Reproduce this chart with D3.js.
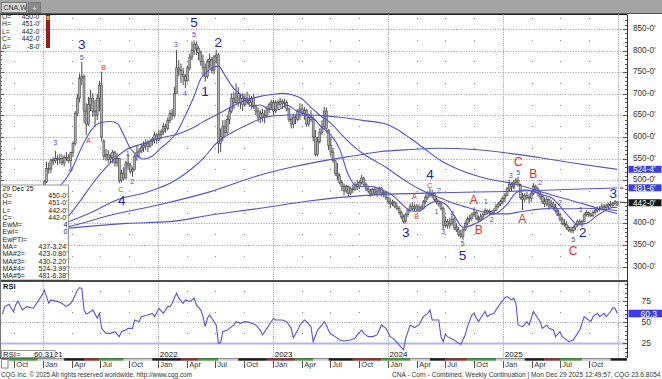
<!DOCTYPE html>
<html><head><meta charset="utf-8">
<script src="https://cdn.jsdelivr.net/npm/d3@7"></script>
<style>body{margin:0;background:#fff}svg{display:block}</style>
</head><body><svg id="c" width="662" height="379"></svg>
<script>
// ---------------- DATA ----------------
// weekly bars, week 0 = week of 4 Jan 2021
const opens = [485,496,527,526,547,545,550,548,550,540,553,552,545,564,585,655,690,735,740,660,630,675,690,660,650,690,720,590,555,560,548,553,565,540,550,500,515,505,540,535,520,525,555,565,568,575,580,585,578,590,595,605,593,605,612,625,620,638,655,650,700,760,755,745,740,730,760,785,800,815,805,795,775,760,740,775,780,755,785,790,585,600,625,610,640,660,690,680,700,680,690,675,690,685,680,690,670,660,645,655,645,650,665,675,680,660,680,675,682,678,680,665,640,630,645,640,660,665,655,662,630,645,640,600,560,590,610,625,660,615,580,565,545,515,510,495,485,475,485,470,480,478,490,485,495,505,490,480,475,468,478,470,475,482,470,472,460,450,445,448,440,435,425,415,405,420,430,440,435,440,432,438,435,450,460,470,465,470,455,450,445,435,395,405,395,400,410,390,385,375,370,385,400,410,412,420,425,412,408,415,420,430,425,428,422,430,440,445,450,458,465,480,490,485,495,500,490,460,455,465,460,458,470,485,480,470,462,450,445,455,440,445,438,430,420,410,400,398,390,385,383,390,398,405,400,405,420,425,420,418,425,430,435,433,440,436,440,444,442,446,450];
const highs = [500,543,541,550,553,568,558,562,560,558,565,560,566,590,660,700,747,774,745,678,693,709,701,686,700,730,751,595,572,570,560,570,568,562,552,524,530,545,560,540,530,560,580,575,585,590,595,592,595,600,612,609,615,618,632,630,645,662,665,716,801,778,770,760,745,765,793,821,824,821,810,800,790,770,780,793,785,790,801,795,620,639,640,650,670,701,705,724,715,700,701,700,705,698,695,700,675,668,662,665,662,672,680,686,686,685,686,690,688,688,685,668,648,654,652,665,678,676,670,665,654,662,648,616,600,620,639,670,668,618,600,575,547,540,515,500,492,490,488,485,490,495,500,500,512,508,495,485,480,482,485,482,485,484,478,475,462,458,455,452,448,440,430,420,425,435,446,450,445,445,444,442,454,465,475,481,478,472,460,455,450,439,416,410,412,419,415,400,392,385,390,405,416,420,425,437,430,418,423,425,435,433,432,430,435,445,450,455,462,470,485,500,495,500,505,508,492,470,470,473,468,475,493,490,485,475,465,460,462,458,454,450,445,435,423,415,410,405,395,392,395,400,408,410,408,425,431,428,425,430,435,439,440,446,445,446,448,452,450,454,451];
const lows = [482,493,515,517,535,540,535,538,535,532,545,540,531,554,580,648,680,720,632,605,625,660,647,624,639,660,590,547,545,540,539,540,532,531,493,495,500,503,524,515,508,522,545,550,562,565,570,565,575,580,585,585,590,595,605,610,615,632,640,645,700,740,725,720,713,728,755,778,790,790,778,765,740,728,735,760,747,745,770,562,565,590,600,605,630,655,665,675,670,665,660,670,675,670,665,665,650,635,632,635,632,645,655,665,650,655,665,668,665,668,660,635,620,620,630,636,640,650,640,624,624,635,590,555,555,585,605,616,610,570,555,540,510,500,490,475,465,470,462,465,470,475,477,480,490,485,475,470,462,464,465,462,465,462,460,454,445,435,440,435,431,420,410,400,400,415,425,430,427,428,428,431,433,445,455,460,458,450,445,439,430,385,390,388,388,395,385,380,370,365,362,382,395,402,405,415,408,402,404,408,418,420,419,419,420,428,435,440,445,450,462,475,475,480,488,485,455,431,450,455,446,450,465,470,462,455,445,438,440,431,435,430,425,418,405,395,392,385,380,378,377,385,392,395,392,402,416,415,414,415,422,425,428,430,432,433,435,438,439,443,442];
const closes = [496,527,526,547,545,550,548,550,540,553,552,545,564,585,655,690,735,740,660,630,675,690,660,650,690,720,600,555,560,548,553,565,540,550,500,515,505,540,535,520,525,555,565,568,575,580,585,578,590,595,605,593,605,612,625,620,638,655,650,700,760,755,745,740,730,760,785,800,815,805,795,775,760,740,775,780,755,785,790,585,600,625,610,640,660,690,680,700,680,690,675,690,685,680,690,670,660,645,655,645,650,665,675,680,660,680,675,682,678,680,665,640,630,645,640,660,665,655,662,630,645,640,600,560,590,610,625,660,620,580,565,545,515,510,495,485,475,485,470,480,478,490,485,495,505,490,480,475,468,478,470,475,482,470,472,460,450,445,448,440,435,425,415,405,420,430,440,435,440,432,438,435,450,460,470,465,470,455,450,445,435,395,405,395,400,410,390,385,375,370,385,400,410,412,420,425,412,408,415,420,430,425,428,422,430,440,445,450,458,465,480,490,485,495,500,490,460,455,465,460,458,470,485,480,470,462,450,445,455,440,445,438,430,420,410,400,398,390,385,383,390,398,405,400,405,420,425,420,418,425,430,435,433,440,436,440,444,442,446,450,442];

// moving averages (week index, value)
const maWeeks = [0,4,8,13,16,19,22,26,30,33,36,39,42,45,49,53,57,60,64,68,71,74,77,79,82,86,90,94,98,102,106,110,114,118,122,126,130,134,138,142,146,150,154,158,162,166,170,174,178,182,186,190,194,198,202,206,210,214,218,222,226,230,234,238,242,246,250,254,258,260];
const maValues = [470,480,492,531,566,597,620,634,636,632,605,574,558,549,556,575,592,610,650,695,735,752,762,764,742,712,695,672,674,664,663,674,662,654,644,622,605,572,512,485,486,484,476,465,446,430,428,443,452,445,418,391,396,406,419,426,444,471,478,474,466,460,440,416,398,400,415,428,437,437];
const ma2Weeks = [0,7,15,22,30,35,45,52,57,62,67,72,78,85,92,101,111,120,128,135,145,155,160,166,172,180,188,195,202,210,218,225,232,240,248,254,260];
const ma2Values = [392,398,412,427,448,458,470,482,493,508,527,550,585,610,628,647,651,651,649,645,638,630,618,597,575,545,525,512,502,495,485,474,463,452,440,431,423];
const ma3Weeks = [0,5,10,16,22,30,37,45,52,60,67,72,78,85,92,98,103,108,113,117,121,125,130,135,140,145,150,155,160,165,170,175,180,185,190,195,200,205,210,215,220,225,230,235,240,245,250,255,260];
const ma3Values = [380,395,412,450,493,540,570,585,597,606,620,635,651,670,686,694,698,701,697,688,668,651,632,605,580,560,545,530,512,495,480,468,458,448,440,432,426,422,422,426,430,433,435,434,434,435,434,432,430];
const ma4Weeks = [0,10,30,52,75,98,113,129,140,152,166,180,195,210,225,240,260];
const ma4Values = [385,392,419,443,473,512,531,547,556,566,571,574,571,563,552,540,525];
const ma5Weeks = [0,10,37,57,75,98,120,130,150,180,210,240,260];
const ma5Values = [386,389,400,404,419,435,452,458,466,471,474,479,482];

// RSI
const rsiWeeks = [-19,-18,-16,-15,-14,-13,-12,-10,-8,-5,-3,-1,0,2,3,6,8,10,12,13,15,16,17,18,19,21,22,24,25,26,28,30,32,34,35,37,38,40,41,43,44,47,49,50,52,54,56,57,58,60,61,63,64,66,68,69,71,72,73,74,75,77,78,79,80,81,83,84,86,87,89,91,93,96,98,99,101,102,104,105,108,110,112,113,115,116,118,119,121,122,124,126,127,128,129,130,132,134,136,139,141,142,144,145,147,149,151,153,155,157,159,161,163,164,166,168,170,172,174,175,176,179,180,181,182,183,186,188,189,191,192,194,195,197,198,200,201,202,204,206,207,209,210,212,213,214,215,217,218,219,220,222,223,225,226,228,229,231,232,234,235,237,238,240,242,243,245,246,248,249,251,252,254,255,257,258,259,260];
const rsiValues = [59.5,68.5,71.3,66.6,62.7,70.5,75.2,64.6,68.5,66.6,74.4,82.3,88.2,72.4,76.4,74.4,72.4,68.5,72.4,76.4,88.2,91,90,64.6,59.5,62.7,64.6,54.7,60.5,42.8,36.9,36.9,38.9,33,38.9,40.8,42.8,42.8,52.7,50.7,56.6,58.6,60.5,56.6,66.6,60.5,68.5,68.5,72.4,84.3,78.4,72.4,76.4,74.4,78.4,70.5,64.6,56.6,44.8,54.7,58.6,50.7,46.8,25.1,25.9,38.9,40.8,42.8,46.8,50.7,48.7,50.7,49.9,46.8,40.8,35,42.8,46.8,54.7,52.7,52.7,50.7,42.8,31.7,40.8,46.8,52.7,50.7,44.8,27,40.8,46.8,50.7,46.8,40,36,33,29.1,27.9,29.1,31,35,40.8,36.9,33,33,35,46.8,42.8,33,29.1,23.2,17.3,31,46.8,43.7,46.8,56.6,60.5,64.6,52.7,52.7,33,27,35.8,33,29.1,25.1,24,35,44.8,58.6,60.5,50.7,54.7,62.7,56.6,58.6,60.5,68.5,72.4,79.1,80.3,76.4,78.4,72.4,46.8,44.8,47.6,50.7,46.8,62.7,58.6,50.7,42.8,46.8,42.8,40.8,33,38.9,33,29.1,27,29.1,36.9,40.8,56.6,54.7,50.7,56.6,60.5,56.6,60.5,56.6,62.7,67.3,66.6,60.3];

// Elliott wave labels (text, week index, price, degree 2=large 0=small)
const waveText = ["3","5","B","3","4","A","1","2","C","4","3","5","5","2","4","1","4","C","2","A","B","3","1","3","4","5","5","A","B","1","2","3","5","C","4","A","B","2","2","3","5","C","2","1","3"];
const waveWeek = [17,17,26.9,4.9,11.7,20,37.8,39.9,34.7,35.1,59.6,67.9,67.9,78.9,63.8,72.9,175,175,179.1,167.9,169,164,178,181,185.1,189.8,189.8,194.9,197.2,200.3,203,211.7,215.1,215.1,212.8,216.9,221.9,224.9,234,233,240,240,244.3,243.4,258.2];
const wavePrice = [815,785,761,587,524,591,562,497,479,454,813,865,837,818,701,705,514,487,477,462,416,379,428,381,423,353,326,454,385,450,408,510,518,542,485,410,514,494,448,422,363,335,379,433,470];
const waveDegree = [2,0,0,0,0,0,0,0,0,2,0,2,0,2,0,2,2,0,0,0,0,2,0,0,0,0,2,2,2,0,0,0,0,2,0,2,2,0,0,0,0,2,2,0,2];

const priceTicks = [300,350,400,450,500,550,600,650,700,750,800,850];
const rsiTicks = [25,50,75];
const monthNames = ["Jan","Apr","Jul","Oct"];
const yearLabels = ["2021","2022","2023","2024","2025"];
const contractStarts = ["2020-08-31","2020-12-14","2021-03-08","2021-05-10","2021-06-28","2021-09-13","2021-12-13","2022-03-14","2022-05-09","2022-07-11","2022-09-12","2022-12-12","2023-03-13","2023-05-08","2023-06-26","2023-09-11","2023-12-11","2024-03-11","2024-05-13","2024-07-01","2024-09-09","2024-12-09","2025-03-10","2025-05-12","2025-06-30","2025-09-08","2025-12-08"];
const lastBar = {date:"29 Dec 25", o:"450-0'", h:"451-0'", l:"442-0'", c:"442-0'", chg:"-8-0'"};
const studyRows = [["EwM=","4"],["EwI=","0"],["EwPTI=",""],["MA=","437-3.24'"],["MA#2=","423-0.80'"],["MA#3=","430-2.20'"],["MA#4=","524-3.99'"],["MA#5=","481-6.38'"]];
const axisMarks = [{v:524.5,t:"524-4'",k:"ma"},{v:481.75,t:"481-6'",k:"ma"},{v:442,t:"442-0'",k:"last"}];
const rsiLast = 60.31;

// ---------------- DRAW ----------------
const FONT = "'Liberation Sans', Arial, Helvetica, sans-serif";
const svg = d3.select("#c").style("font-family", FONT);
const base = new Date(2021,0,4).getTime();
const wd = i => new Date(base + i*7*864e5);
const x = d3.scaleTime().domain([new Date(2022,0,1), new Date(2025,0,1)]).range([158.3,503.3]);
const y = d3.scaleLinear().domain([300,850]).range([266.6,29]);
const yr = d3.scaleLinear().domain([25,75]).range([343.4,301.1]);
const PR = 627, MT = 14.5, MB = 280.5, RT = 281, RB = 358;
const px = v => Math.round(v) + 0.5;

svg.append("rect").attr("width",662).attr("height",379).attr("fill","#fff");
const defs = svg.append("defs");
defs.append("clipPath").attr("id","cm").append("rect").attr("x",0).attr("y",MT).attr("width",PR).attr("height",MB-MT);
defs.append("clipPath").attr("id","cr").append("rect").attr("x",0).attr("y",RT+1).attr("width",PR).attr("height",RB-RT-1);

// header
svg.append("rect").attr("x",0).attr("y",0).attr("width",662).attr("height",13).attr("fill","#a4a4a4");
svg.append("rect").attr("x",1.5).attr("y",2.5).attr("width",25).attr("height",10).attr("fill","#d6d6d6").attr("stroke","#7c7c7c");
svg.append("text").attr("x",3.5).attr("y",10.2).attr("font-size",7).attr("fill","#333").text("CNA,W");
svg.append("rect").attr("x",28.5).attr("y",2.5).attr("width",12).attr("height",10).attr("fill","#8a8a8a").attr("stroke","#777");
svg.append("text").attr("x",34.5).attr("y",10.5).attr("text-anchor","middle").attr("font-size",8).attr("fill","#e8e8e8").text("+");
svg.append("line").attr("x1",0).attr("x2",662).attr("y1",13.5).attr("y2",13.5).attr("stroke","#555");
svg.append("line").attr("x1",0).attr("x2",PR).attr("y1",MT).attr("y2",MT).attr("stroke","#222");

// grid
const grid = svg.append("g");
priceTicks.forEach(v => grid.append("line").attr("x1",1).attr("x2",PR).attr("y1",px(y(v))).attr("y2",px(y(v)))
  .attr("stroke","#9a9a9a").attr("stroke-dasharray","1,1.6"));
const years = d3.timeYear.range(new Date(2021,0,1), new Date(2026,0,2));
years.forEach(d => {
  [[MT,MB],[RT,RB]].forEach(([a,b]) => grid.append("line").attr("x1",px(x(d))).attr("x2",px(x(d))).attr("y1",a).attr("y2",b)
    .attr("stroke","#9a9a9a").attr("stroke-dasharray","1,1.2"));
});
const quarters = d3.timeMonth.range(new Date(2020,9,1), new Date(2026,0,1), 3);
quarters.filter(d => d.getMonth() !== 0).forEach(d => {
  const qx = Math.round(x(d));
  d3.range(325, 900, 50).forEach(v => { if (y(v) > MT+1) grid.append("rect").attr("x",qx).attr("y",Math.round(y(v))).attr("width",1).attr("height",1).attr("fill","#8a8a8a"); });
  [87.5,62.5,37.5].forEach(r => grid.append("rect").attr("x",qx).attr("y",Math.round(yr(r))).attr("width",1).attr("height",1).attr("fill","#8a8a8a"));
});

// edge ticks main
const ticksG = svg.append("g").attr("stroke","#555");
d3.range(300, 871, 10).forEach(v => {
  const yy = px(y(v)); if (yy < MT || yy > MB) return;
  const len = v % 50 === 0 ? 4 : 2;
  ticksG.append("line").attr("x1",PR-len).attr("x2",PR).attr("y1",yy).attr("y2",yy);
  ticksG.append("line").attr("x1",0).attr("x2",len).attr("y1",yy).attr("y2",yy);
});

// bars (body between open and close, wick high-low)
const bars = svg.append("g").attr("clip-path","url(#cm)");
closes.forEach((c,i) => {
  const bx = x(wd(i));
  bars.append("line").attr("x1",bx).attr("x2",bx).attr("y1",y(highs[i])).attr("y2",y(lows[i])).attr("stroke","#333").attr("stroke-width",0.9);
  const top = y(Math.max(opens[i], c)), bot = y(Math.min(opens[i], c));
  bars.append("rect").attr("x",bx-1).attr("y",top).attr("width",2).attr("height",Math.max(1,bot-top))
    .attr("fill","#adadad").attr("stroke","#444").attr("stroke-width",0.55);
});

// moving averages
const maG = svg.append("g").attr("clip-path","url(#cm)");
const maLine = d3.line().x(d => x(wd(d[0]))).y(d => y(d[1])).curve(d3.curveMonotoneX);
[[maWeeks,maValues],[ma2Weeks,ma2Values],[ma3Weeks,ma3Values],[ma4Weeks,ma4Values],[ma5Weeks,ma5Values]].forEach(([w,v]) => {
  maG.append("path").attr("d", maLine(w.map((d,k) => [d, v[k]]))).attr("fill","none").attr("stroke","#5252dc").attr("stroke-width",1.1);
});

// wave labels
const waveG = svg.append("g");
waveText.forEach((t,k) => {
  const isLetter = /[ABC]/.test(t);
  const big = waveDegree[k] === 2;
  waveG.append("text").attr("x", x(wd(waveWeek[k]))).attr("y", y(wavePrice[k]))
    .attr("text-anchor","middle").attr("dominant-baseline","central")
    .attr("font-size", big ? (isLetter ? 12 : 13.5) : 7.2)
    .attr("fill", isLetter ? "#e4302a" : (big ? "#2222b4" : "#4a4ad2")).text(t);
});

// small price markers near the axis
[[481.75,0],[442,-3]].forEach(([v,o]) => svg.append("line").attr("x1",620).attr("x2",623.5).attr("y1",y(v)+o).attr("y2",y(v)+o).attr("stroke","#333"));

// top-left OHLC box
svg.append("rect").attr("x",0).attr("y",MT+0.5).attr("width",42).attr("height",35).attr("fill","#fff");
[["O=",lastBar.o],["H=",lastBar.h],["L=",lastBar.l],["C=",lastBar.c],["\u0394=",lastBar.chg]].forEach(([a,b],k) => {
  const yy = 18.6 + k*7.6;
  svg.append("text").attr("x",2).attr("y",yy).attr("font-size",6.8).attr("fill","#222").text(a);
  svg.append("text").attr("x",40.5).attr("y",yy).attr("text-anchor","end").attr("font-size",6.8).attr("fill","#222").text(b);
});
svg.append("rect").attr("x",46).attr("y",15).attr("width",4).attr("height",33).attr("fill","#a3161a");
svg.append("rect").attr("x",46.5).attr("y",16).attr("width",3).attr("height",4).attr("fill","#d8b020");

// lower-left data window
svg.append("rect").attr("x",0.5).attr("y",185).attr("width",68).attr("height",95).attr("fill","#fff").attr("stroke","#9a9a9a");
const rowsY = [188.4,195.6,202.8,210,217.3,224.6,231.8,239.1,246.5,253.8,261,268.3,275.6];
svg.append("text").attr("x",2.5).attr("y",rowsY[0]+2.4).attr("font-size",6.8).attr("fill","#222").text(lastBar.date);
[["O=",lastBar.o],["H=",lastBar.h],["L=",lastBar.l],["C=",lastBar.c]].concat(studyRows).forEach(([a,b],k) => {
  const yy = rowsY[k+1] + 2.5;
  svg.append("text").attr("x",2.5).attr("y",yy).attr("font-size",7).attr("fill","#222").text(a);
  svg.append("text").attr("x",67.5).attr("y",yy).attr("text-anchor","end").attr("font-size",7).attr("fill","#222").text(b);
});

// right price axis
const lastY = y(442) - 2;
priceTicks.forEach(v => {
  if (Math.abs(y(v) - lastY) < 7) return;
  svg.append("text").attr("x",633).attr("y",y(v)+1.9).attr("font-size",8.2).attr("fill","#333").text(v + "-0'");
});
axisMarks.forEach(m => {
  const cy = y(m.v) - (m.k === "last" ? 2.5 : 0.3);
  svg.append("rect").attr("x",628.5).attr("y",cy-3.5).attr("width",33).attr("height",7).attr("fill", m.k === "last" ? "#151515" : "#3b3bef");
  svg.append("text").attr("x",633).attr("y",cy+2.8).attr("font-size",8.2).attr("fill","#fff").text(m.t);
});

// panel separators / frame
svg.append("line").attr("x1",0).attr("x2",PR).attr("y1",RT).attr("y2",RT).attr("stroke","#111").attr("stroke-width",1.5);
svg.append("line").attr("x1",PR+0.5).attr("x2",PR+0.5).attr("y1",MT).attr("y2",RB).attr("stroke","#333");
svg.append("line").attr("x1",0.5).attr("x2",0.5).attr("y1",MT).attr("y2",RB).attr("stroke","#777");
svg.append("line").attr("x1",0).attr("x2",PR).attr("y1",RB+0.5).attr("y2",RB+0.5).attr("stroke","#555");

// RSI panel
const rsiG = svg.append("g");
rsiG.append("line").attr("x1",1).attr("x2",PR).attr("y1",px(yr(75))).attr("y2",px(yr(75))).attr("stroke","#e08a8a").attr("stroke-dasharray","1,1.4");
rsiG.append("line").attr("x1",1).attr("x2",PR).attr("y1",px(yr(50))).attr("y2",px(yr(50))).attr("stroke","#9a9a9a").attr("stroke-dasharray","1,1.4");
rsiG.append("line").attr("x1",1).attr("x2",PR).attr("y1",yr(25)).attr("y2",yr(25)).attr("stroke","#b4b4ee").attr("stroke-width",2);
d3.range(0,101,5).forEach(r => { const yy = px(yr(r)); if (yy <= RT+1 || yy >= RB) return;
  rsiG.append("line").attr("x1",PR-(r%25===0?4:2)).attr("x2",PR).attr("y1",yy).attr("y2",yy).attr("stroke","#555"); });
const rsiLine = d3.line().x(d => x(wd(d[0]))).y(d => yr(d[1]));
rsiG.append("path").attr("clip-path","url(#cr)").attr("d", rsiLine(rsiWeeks.map((w,k) => [w, rsiValues[k]])))
  .attr("fill","none").attr("stroke","#5555e2").attr("stroke-width",1.1);
svg.append("text").attr("x",3).attr("y",288.5).attr("font-size",7.5).attr("font-weight","bold").attr("fill","#111").text("RSI");
rsiTicks.forEach(r => svg.append("text").attr("x",641.5).attr("y",yr(r)+3).attr("font-size",8.5).attr("fill","#333").text(r));
svg.append("rect").attr("x",628.5).attr("y",yr(rsiLast)-3.8).attr("width",33.5).attr("height",7.6).attr("fill","#3b3bef");
svg.append("text").attr("x",640.5).attr("y",yr(rsiLast)+3).attr("font-size",8.5).attr("fill","#fff").text(rsiLast.toFixed(1));

// year labels
years.slice(0,5).forEach((d,k) => svg.append("text").attr("x",x(d)+1.5).attr("y",357.3).attr("font-size",8).attr("fill","#111").text(yearLabels[k]));
svg.append("rect").attr("x",1.5).attr("y",350.5).attr("width",53.5).attr("height",7).attr("fill","#fff").attr("stroke","#999");
svg.append("text").attr("x",3).attr("y",356.8).attr("font-size",7.8).attr("fill","#222").text("RSI=");
svg.append("text").attr("x",53.5).attr("y",356.8).attr("text-anchor","end").attr("font-size",7.8).attr("fill","#222").text(rsiLast.toFixed(2));

// contract strip
const parse = d3.timeParse("%Y-%m-%d");
const stripColors = ["#3e9e3e","#cacaca","#1c1c1c","#a02a2a"];
contractStarts.forEach((s,k) => {
  const x0 = Math.max(8.5, x(parse(s)));
  const x1 = k < contractStarts.length-1 ? x(parse(contractStarts[k+1])) : PR;
  svg.append("rect").attr("x",x0).attr("y",358.5).attr("width",Math.max(0,Math.min(x1,PR)-x0)).attr("height",2.2).attr("fill",stripColors[k % 4]);
});
svg.append("rect").attr("x",1.5).attr("y",359.5).attr("width",6.5).attr("height",8.5).attr("fill","#fff").attr("stroke","#888");

// month axis
quarters.forEach(d => {
  const qx = px(x(d));
  if (qx > PR - 8) return;
  svg.append("line").attr("x1",qx).attr("x2",qx).attr("y1",361).attr("y2",368).attr("stroke","#555");
  svg.append("text").attr("x",qx+1.8).attr("y",367).attr("font-size",7.5).attr("fill","#333").text(monthNames[d.getMonth()/3]);
});

// footer
svg.append("text").attr("x",1).attr("y",377).attr("font-size",7).attr("fill","#333")
  .attr("textLength",191).attr("lengthAdjust","spacingAndGlyphs").text("CQG Inc. \u00a9 2025 All rights reserved worldwide. http://www.cqg.com");
svg.append("text").attr("x",660.5).attr("y",377).attr("text-anchor","end").attr("font-size",6.6).attr("fill","#333")
  .text("CNA - Corn - Combined, Weekly Continuation | Mon Dec 29 2025 12:49:57, CQG 23.6.8054");
</script></body></html>
